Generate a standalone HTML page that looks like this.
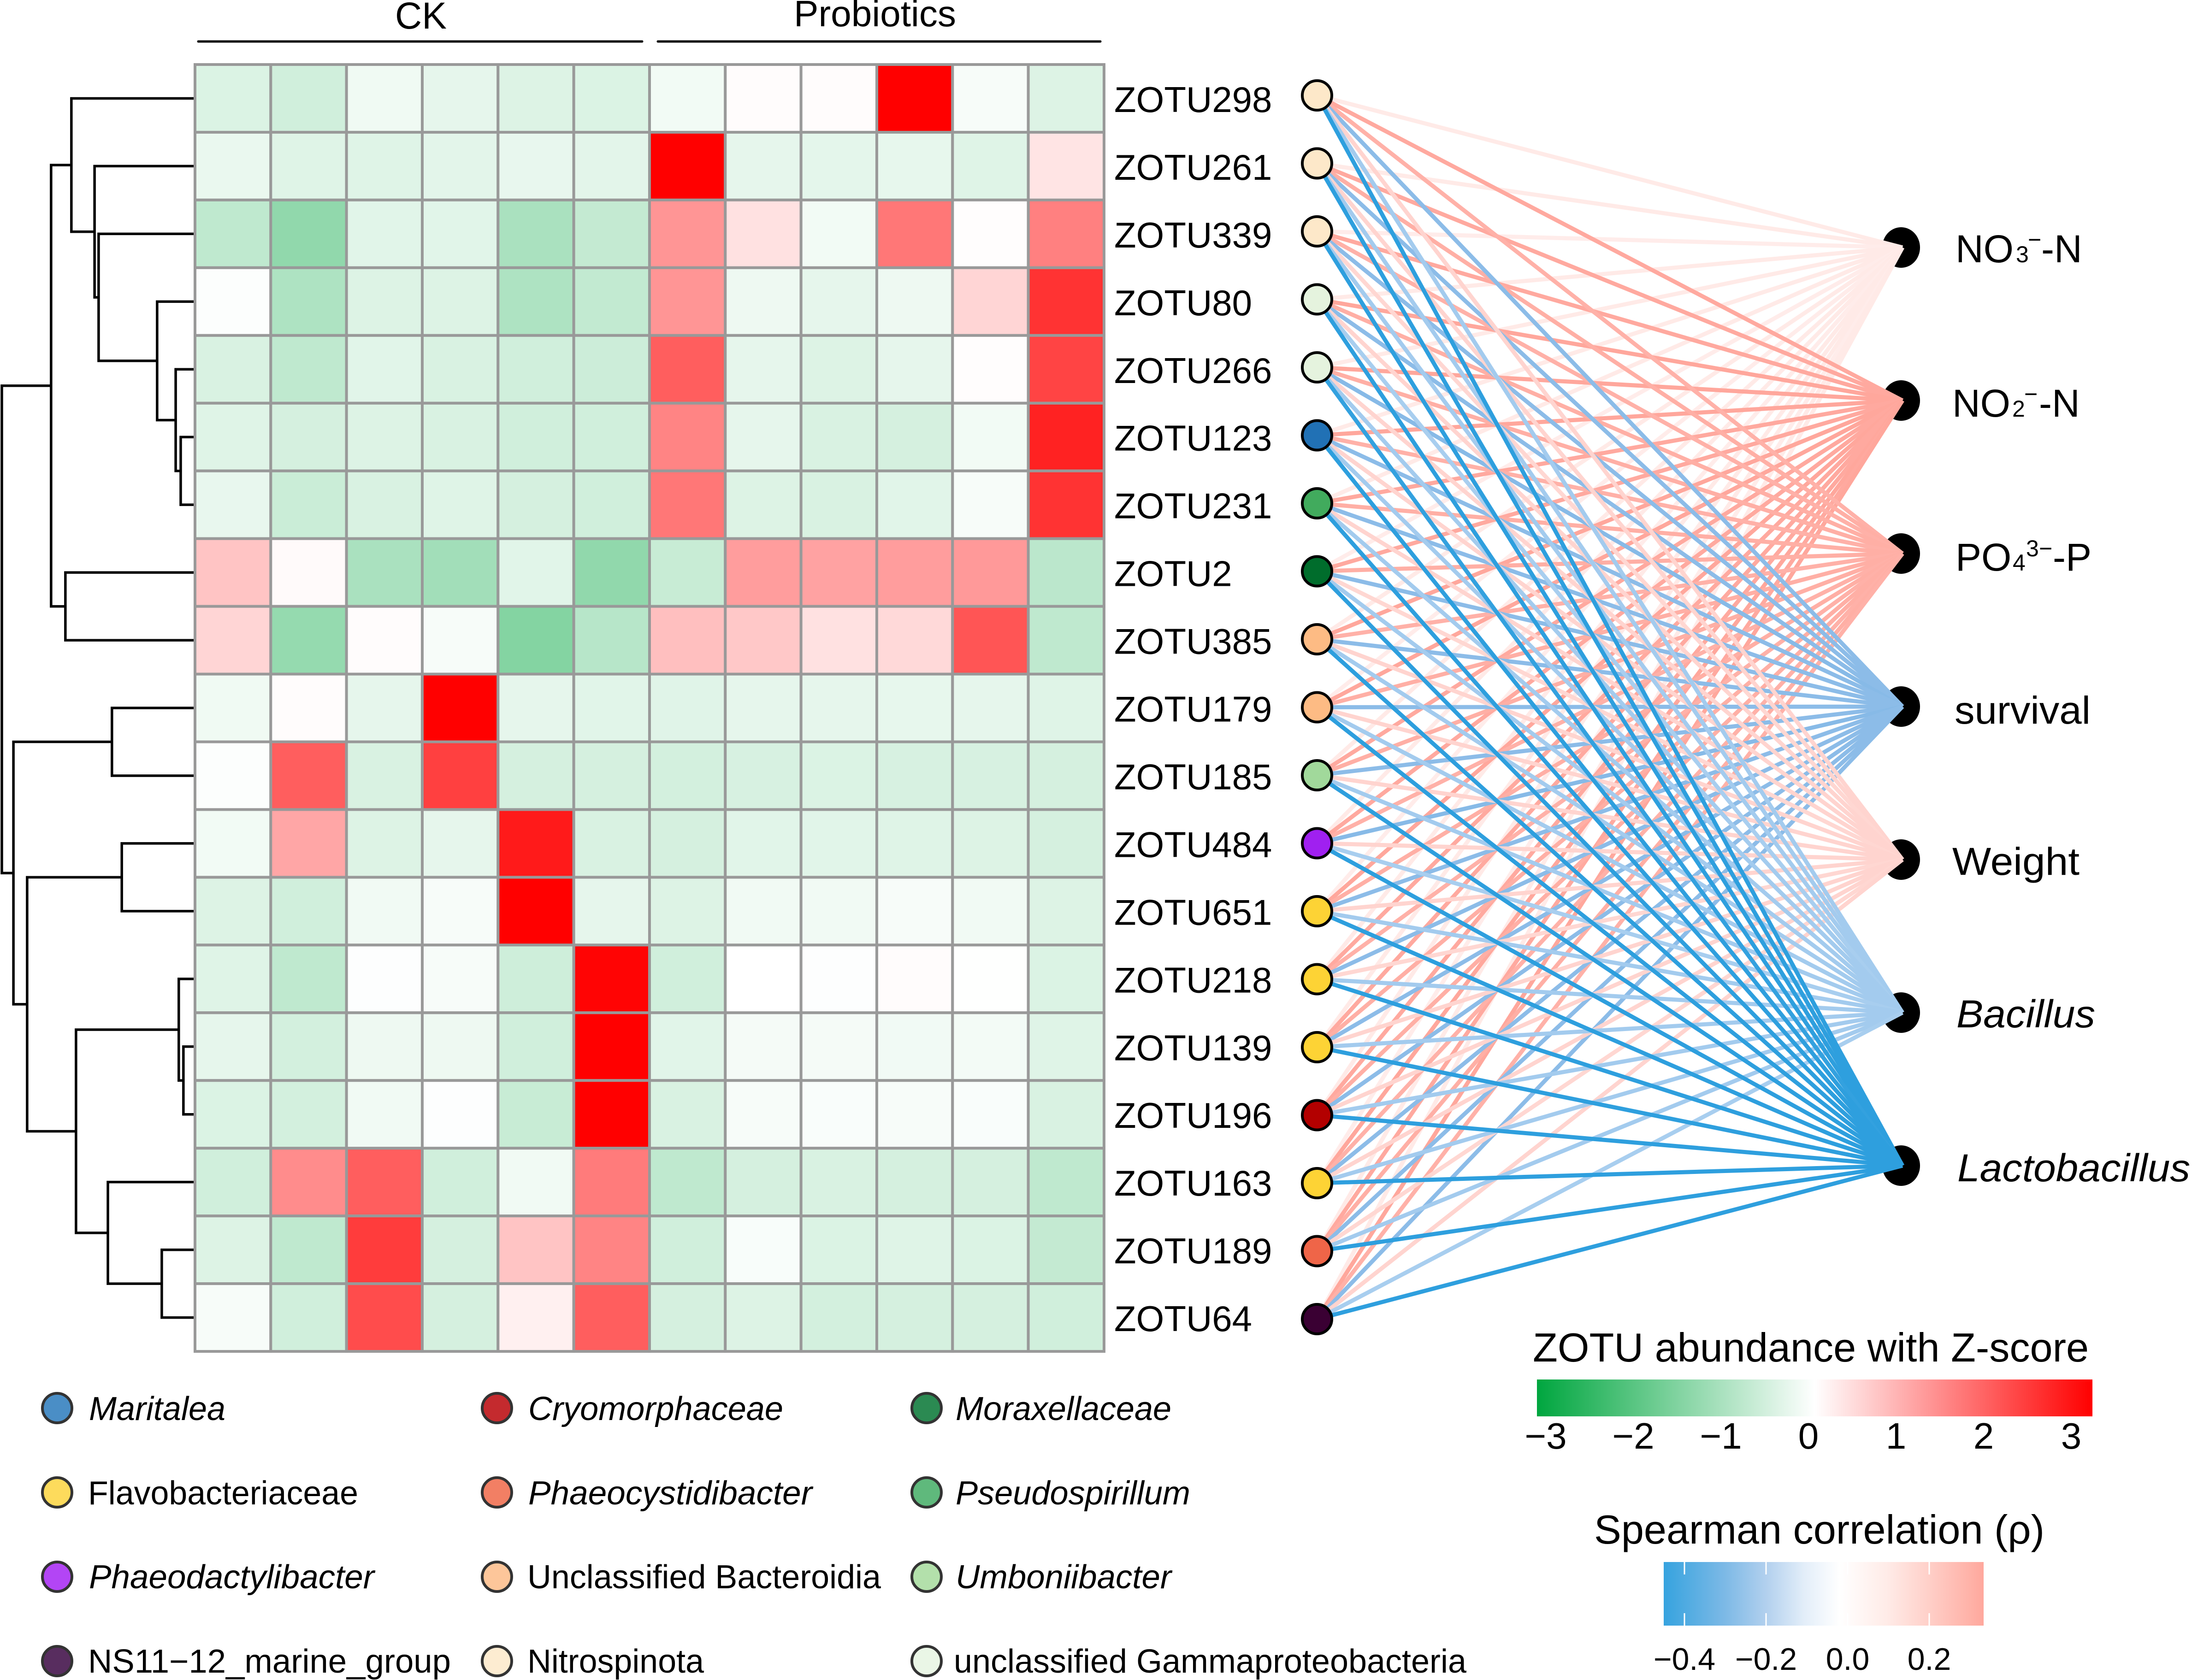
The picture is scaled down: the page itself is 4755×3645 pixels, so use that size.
<!DOCTYPE html>
<html lang="en">
<head>
<meta charset="utf-8">
<title>ZOTU abundance heatmap and Spearman correlation network</title>
<style>
  html, body { margin: 0; padding: 0; background: #ffffff; }
  svg { display: block; }
  text { font-family: "Liberation Sans", sans-serif; fill: #000000; }
</style>
</head>
<body>
<svg xmlns="http://www.w3.org/2000/svg" width="4755" height="3645" viewBox="0 0 4755 3645">
  <defs>
    <linearGradient id="zscoreGradient" x1="0" x2="1" y1="0" y2="0">
      <stop offset="0" stop-color="#00a63f"/>
      <stop offset="0.5" stop-color="#ffffff"/>
      <stop offset="1" stop-color="#ff0000"/>
    </linearGradient>
    <linearGradient id="rhoGradient" x1="0" x2="1" y1="0" y2="0">
      <stop offset="0" stop-color="#36a3df"/>
      <stop offset="0.19" stop-color="#7cb9e6"/>
      <stop offset="0.32" stop-color="#b2d0ee"/>
      <stop offset="0.44" stop-color="#e3eef9"/>
      <stop offset="0.55" stop-color="#ffffff"/>
      <stop offset="0.7" stop-color="#ffebe7"/>
      <stop offset="0.83" stop-color="#ffcfc8"/>
      <stop offset="1" stop-color="#ffa89d"/>
    </linearGradient>
  </defs>

  <g id="dendrogram"></g>
  <g id="heatmap"></g>

  <text x="857" y="62" font-size="82" textLength="112" lengthAdjust="spacingAndGlyphs">CK</text>
  <line x1="430" y1="90" x2="1393" y2="90" stroke="#000" stroke-width="5" stroke-linecap="round"/>
  <text x="1722" y="57" font-size="80" textLength="352" lengthAdjust="spacingAndGlyphs">Probiotics</text>
  <line x1="1427" y1="90" x2="2387" y2="90" stroke="#000" stroke-width="5" stroke-linecap="round"/>

  <g id="rowLabels"></g>
  <g id="targetNodes"></g>
  <g id="edges"></g>
  <g id="sourceNodes"></g>

  <g>
    <text y="569" font-size="84"><tspan x="4242">NO</tspan><tspan x="4373" font-size="50">3</tspan><tspan x="4399" dy="-32" font-size="50">−</tspan><tspan x="4428" dy="32">-N</tspan></text>
    <text y="904" font-size="84"><tspan x="4235">NO</tspan><tspan x="4365" font-size="50">2</tspan><tspan x="4391" dy="-32" font-size="50">−</tspan><tspan x="4423" dy="32">-N</tspan></text>
    <text y="1238" font-size="84"><tspan x="4242">PO</tspan><tspan x="4366" font-size="50">4</tspan><tspan x="4395" dy="-31" font-size="50">3</tspan><tspan x="4423" font-size="50">−</tspan><tspan x="4453" dy="31">-P</tspan></text>
    <text x="4240" y="1570" font-size="84" textLength="295" lengthAdjust="spacingAndGlyphs">survival</text>
    <text x="4235" y="1898" font-size="84" textLength="276" lengthAdjust="spacingAndGlyphs">Weight</text>
    <text x="4244" y="2229" font-size="84" font-style="italic" textLength="301" lengthAdjust="spacingAndGlyphs">Bacillus</text>
    <text x="4246" y="2563" font-size="84" font-style="italic" textLength="505" lengthAdjust="spacingAndGlyphs">Lactobacillus</text>
  </g>

  <g>
    <text x="3325" y="2954" font-size="88" textLength="1206" lengthAdjust="spacingAndGlyphs">ZOTU abundance with Z-score</text>
    <rect x="3334" y="2993" width="1205" height="80" fill="url(#zscoreGradient)"/>
    <g id="zscoreTicks"></g>
  </g>

  <g>
    <text x="3458" y="3349" font-size="88" textLength="977" lengthAdjust="spacingAndGlyphs">Spearman correlation (ρ)</text>
    <rect x="3609" y="3389" width="694" height="138" fill="url(#rhoGradient)"/>
    <g id="rhoTicks"></g>
  </g>

  <g>
    <g><circle cx="124" cy="3055" r="32" fill="#4a8ec6" stroke="#333" stroke-width="6"/><text x="193" y="3081" font-size="72" font-style="italic" textLength="296" lengthAdjust="spacingAndGlyphs">Maritalea</text></g>
    <g><circle cx="124" cy="3238" r="32" fill="#fddb5c" stroke="#333" stroke-width="6"/><text x="191" y="3264" font-size="72" textLength="586" lengthAdjust="spacingAndGlyphs">Flavobacteriaceae</text></g>
    <g><circle cx="124" cy="3421" r="32" fill="#b345f5" stroke="#333" stroke-width="6"/><text x="193" y="3446" font-size="72" font-style="italic" textLength="619" lengthAdjust="spacingAndGlyphs">Phaeodactylibacter</text></g>
    <g><circle cx="124" cy="3604" r="32" fill="#582d5f" stroke="#333" stroke-width="6"/><text x="191" y="3629" font-size="72" textLength="787" lengthAdjust="spacingAndGlyphs">NS11−12_marine_group</text></g>
    <g><circle cx="1078" cy="3055" r="32" fill="#c42a2e" stroke="#333" stroke-width="6"/><text x="1146" y="3081" font-size="72" font-style="italic" textLength="553" lengthAdjust="spacingAndGlyphs">Cryomorphaceae</text></g>
    <g><circle cx="1078" cy="3238" r="32" fill="#f27f64" stroke="#333" stroke-width="6"/><text x="1146" y="3264" font-size="72" font-style="italic" textLength="616" lengthAdjust="spacingAndGlyphs">Phaeocystidibacter</text></g>
    <g><circle cx="1078" cy="3421" r="32" fill="#fdc69a" stroke="#333" stroke-width="6"/><text x="1144" y="3446" font-size="72" textLength="767" lengthAdjust="spacingAndGlyphs">Unclassified Bacteroidia</text></g>
    <g><circle cx="1078" cy="3604" r="32" fill="#fdecd1" stroke="#333" stroke-width="6"/><text x="1144" y="3629" font-size="72" textLength="383" lengthAdjust="spacingAndGlyphs">Nitrospinota</text></g>
    <g><circle cx="2010" cy="3055" r="32" fill="#2b8a52" stroke="#333" stroke-width="6"/><text x="2073" y="3081" font-size="72" font-style="italic" textLength="468" lengthAdjust="spacingAndGlyphs">Moraxellaceae</text></g>
    <g><circle cx="2010" cy="3238" r="32" fill="#5fb97c" stroke="#333" stroke-width="6"/><text x="2073" y="3264" font-size="72" font-style="italic" textLength="509" lengthAdjust="spacingAndGlyphs">Pseudospirillum</text></g>
    <g><circle cx="2010" cy="3421" r="32" fill="#b3e0ab" stroke="#333" stroke-width="6"/><text x="2073" y="3446" font-size="72" font-style="italic" textLength="468" lengthAdjust="spacingAndGlyphs">Umboniibacter</text></g>
    <g><circle cx="2010" cy="3604" r="32" fill="#eaf6e6" stroke="#333" stroke-width="6"/><text x="2069" y="3629" font-size="72" textLength="1112" lengthAdjust="spacingAndGlyphs">unclassified Gammaproteobacteria</text></g>
  </g>
</svg>

<script>
// ---------- Data ----------
const zotuLabels = ["ZOTU298","ZOTU261","ZOTU339","ZOTU80","ZOTU266","ZOTU123","ZOTU231","ZOTU2","ZOTU385","ZOTU179","ZOTU185","ZOTU484","ZOTU651","ZOTU218","ZOTU139","ZOTU196","ZOTU163","ZOTU189","ZOTU64"];
const zotuColors = ["#fde8c9","#fde8c9","#fde8c9","#e5f3de","#e5f3de","#2171b5","#41ab5d","#006d2c","#fdbb84","#fdbb84","#a1d99b","#a020f0","#fdd335","#fdd335","#fdd335","#b30000","#fdd335","#ef6548","#3a0033"];

const zRow0  = [-.42,-.55,-.18,-.30,-.40,-.42, -.15,.03,.03,3,-.10,-.40];
const zRow1  = [-.25,-.38,-.38,-.33,-.27,-.33, 3,-.30,-.32,-.28,-.38,.32];
const zRow2  = [-.75,-1.3,-.35,-.35,-1.0,-.70, 1.25,.35,-.15,1.6,.02,1.5];
const zRow3  = [-.03,-.95,-.40,-.40,-.95,-.72, 1.25,-.20,-.30,-.20,.5,2.4];
const zRow4  = [-.45,-.75,-.35,-.45,-.55,-.60, 1.9,-.30,-.40,-.30,.02,2.2];
const zRow5  = [-.38,-.50,-.40,-.45,-.55,-.55, 1.45,-.30,-.45,-.50,-.15,2.6];
const zRow6  = [-.27,-.62,-.45,-.38,-.50,-.55, 1.6,-.40,-.45,-.35,-.10,2.4];
const zRow7  = [.7,.06,-1.0,-1.1,-.35,-1.3, -.65,1.15,1.1,1.15,1.2,-.80];
const zRow8  = [.5,-1.25,.03,-.10,-1.45,-.85, .75,.65,.35,.45,2.0,-.75];
const zRow9  = [-.18,.03,-.30,3,-.30,-.35, -.36,-.30,-.30,-.28,-.30,-.38];
const zRow10 = [-.03,1.9,-.45,2.25,-.50,-.50, -.52,-.47,-.42,-.47,-.47,-.50];
const zRow11 = [-.15,1.05,-.40,-.30,2.7,-.45, -.50,-.35,-.35,-.38,-.40,-.50];
const zRow12 = [-.40,-.55,-.17,-.10,3,-.30, -.40,-.17,-.17,-.10,-.17,-.40];
const zRow13 = [-.38,-.75,-.02,-.10,-.58,2.95, -.55,0,-.02,.03,-.01,-.42];
const zRow14 = [-.30,-.52,-.20,-.20,-.55,3, -.35,-.12,-.12,-.16,-.14,-.38];
const zRow15 = [-.42,-.52,-.17,-.02,-.65,3, -.45,-.10,-.07,-.10,-.07,-.45];
const zRow16 = [-.55,1.35,1.9,-.55,-.17,1.55, -.75,-.50,-.45,-.50,-.50,-.75];
const zRow17 = [-.40,-.75,2.3,-.50,.7,1.45, -.55,-.08,-.42,-.38,-.42,-.70];
const zRow18 = [-.10,-.55,2.1,-.50,.18,1.9, -.50,-.40,-.52,-.50,-.50,-.55];
const zMatrix = [zRow0,zRow1,zRow2,zRow3,zRow4,zRow5,zRow6,zRow7,zRow8,zRow9,zRow10,zRow11,zRow12,zRow13,zRow14,zRow15,zRow16,zRow17,zRow18];

// Dendrogram merges: negative = leaf (-1 is first row), positive = earlier merge (1-based)
const mergeLeft   = [-6,-5,-4,-3,-2,-1,-8,6,-10,-12,-15,-14,-18,-17,12,10,9,8];
const mergeRight  = [-7,1,2,3,4,5,-9,7,-11,-13,-16,11,-19,13,14,15,16,17];
const mergeHeight = [7.4,10.0,19.6,49.9,52.0,64.0,67.1,74.5,43.0,37.9,6.0,8.4,17.2,45.1,61.6,86.9,94.0,100];

const targetNames = ["no3-n","no2-n","po4-p","survival","weight","bacillus","lactobacillus"];
const rhoNO3   = [.08,.08,.07,.08,.08,.08,.08,.07,.08,.07,.08,.08,.07,.08,.08,.08,.07,.08,.08];
const rhoNO2   = [.32,.32,.32,.33,.33,.33,.32,.32,.33,.33,.32,.32,.33,.32,.32,.32,.33,.32,.33];
const rhoPO4   = [.29,.30,.29,.30,.30,.29,.30,.30,.29,.30,.30,.29,.30,.29,.30,.30,.29,.30,.29];
const rhoSurv  = [-.25,-.25,-.25,-.25,-.26,-.25,-.25,-.25,-.25,-.25,-.25,-.26,-.25,-.25,-.25,-.25,-.25,-.25,-.25];
const rhoWeight= [.16,.16,.15,.16,.16,.16,.16,.15,.16,.16,.16,.16,.16,.15,.16,.16,.16,.15,.16];
const rhoBac   = [-.20,-.20,-.20,-.19,-.20,-.20,-.20,-.20,-.20,-.20,-.20,-.19,-.20,-.20,-.20,-.20,-.20,-.20,-.19];
const rhoLacto = [-.44,-.44,-.44,-.44,-.43,-.44,-.44,-.44,-.44,-.44,-.44,-.44,-.44,-.44,-.44,-.44,-.44,-.44,-.44];
const rhoByTarget = [rhoNO3,rhoNO2,rhoPO4,rhoSurv,rhoWeight,rhoBac,rhoLacto];

const zscoreTickValues = [-3,-2,-1,0,1,2,3];
const rhoTickValues = [-0.4,-0.2,0,0.2];

// ---------- Axis functions ----------
const NS = "http://www.w3.org/2000/svg";
const colX = c => 423 + c * 164.33;
const rowY = r => 140 + r * 146.95;
const rowMid = r => rowY(r + 0.5);
const heightX = h => 423 - h * 4.19;
const srcY = i => 207 + i * 147.5;
const tgtY = j => 537 + j * 332;
const zscoreX = v => 3923 + v * 190;
const rhoX = v => 4008 + v * 885;

function mix(a, b, t) { return Math.round(a + (b - a) * t); }
function zColor(z) {
  const t = Math.min(1, Math.abs(z) / 3);
  if (z >= 0) return "rgb(255," + mix(255, 0, t) + "," + mix(255, 0, t) + ")";
  return "rgb(" + mix(255, 0, t) + "," + mix(255, 166, t) + "," + mix(255, 63, t) + ")";
}
function lerpColor(a, b, t) {
  return "rgb(" + mix(a[0], b[0], t) + "," + mix(a[1], b[1], t) + "," + mix(a[2], b[2], t) + ")";
}
function rhoColor(r) {
  if (r >= 0) return lerpColor([255,255,255], [255,166,155], Math.min(1, r / 0.333));
  if (r >= -0.2) return lerpColor([255,255,255], [163,203,238], -r / 0.2);
  if (r >= -0.25) return lerpColor([163,203,238], [140,188,232], (-r - 0.2) / 0.05);
  return lerpColor([140,188,232], [46,159,222], Math.min(1, (-r - 0.25) / 0.19));
}
function mk(tag, attrs, parent) {
  const el = document.createElementNS(NS, tag);
  for (const k in attrs) el.setAttribute(k, attrs[k]);
  parent.appendChild(el);
  return el;
}

// ---------- Heatmap ----------
const heatG = document.getElementById("heatmap");
zMatrix.forEach((row, r) => {
  row.forEach((z, c) => {
    const cell = mk("rect", {x: colX(c), y: rowY(r), width: 164.33, height: 146.95, fill: zColor(z), stroke: "#999999", "stroke-width": 6}, heatG);
    
    
  });
});

// ---------- Row labels ----------
const labelG = document.getElementById("rowLabels");
zotuLabels.forEach((name, r) => {
  const t = mk("text", {x: 2417, y: rowMid(r) + 29.5, "font-size": 78}, labelG);
  t.textContent = name;
  
  
});

// ---------- Dendrogram ----------
const dendG = document.getElementById("dendrogram");
const mergeMid = [];
function nodeInfo(id) {
  if (id < 0) return {x: 423, y: rowMid(-id - 1)};
  return {x: heightX(mergeHeight[id - 1]), y: mergeMid[id - 1]};
}
mergeHeight.forEach((h, i) => {
  const a = nodeInfo(mergeLeft[i]);
  const b = nodeInfo(mergeRight[i]);
  const x = heightX(h);
  mergeMid[i] = (a.y + b.y) / 2;
  const p = mk("path", {d: "M" + a.x + " " + a.y + "H" + x + "V" + b.y + "H" + b.x, fill: "none", stroke: "#000", "stroke-width": 5.5, "stroke-linejoin": "miter"}, dendG);
  
  
});

// ---------- Network ----------
const SRC_X = 2857, TGT_X = 4127;
const tgtG = document.getElementById("targetNodes");
targetNames.forEach((name, j) => {
  const c = mk("ellipse", {cx: 4124, cy: tgtY(j), rx: 41, ry: 44, fill: "#000"}, tgtG);
  
  
});
const edgeG = document.getElementById("edges");
rhoByTarget.forEach((vals, j) => {
  vals.forEach((rho, i) => {
    const l = mk("line", {x1: SRC_X, y1: srcY(i), x2: TGT_X, y2: tgtY(j), stroke: rhoColor(rho), "stroke-width": 9}, edgeG);
    
    
  });
});
const srcG = document.getElementById("sourceNodes");
zotuColors.forEach((col, i) => {
  const c = mk("circle", {cx: SRC_X, cy: srcY(i), r: 32, fill: col, stroke: "#000", "stroke-width": 6}, srcG);
  
  
});

// ---------- Colour bar ticks ----------
const fmtMinus = s => s.replace("-", "\u2212");
const zTickG = document.getElementById("zscoreTicks");
zscoreTickValues.forEach(v => {
  const t = mk("text", {x: zscoreX(v), y: 3143, "font-size": 80, "text-anchor": "middle"}, zTickG);
  t.textContent = fmtMinus(String(v));
  
  
});
const rTickG = document.getElementById("rhoTicks");
rhoTickValues.forEach(v => {
  const x = rhoX(v);
  const top = mk("line", {x1: x, x2: x, y1: 3389, y2: 3416, stroke: "#fff", "stroke-width": 3}, rTickG);
  
  
  const bot = mk("line", {x1: x, x2: x, y1: 3500, y2: 3527, stroke: "#fff", "stroke-width": 3}, rTickG);
  
  
  const t = mk("text", {x: x, y: 3623, "font-size": 68, "text-anchor": "middle"}, rTickG);
  t.textContent = fmtMinus(v.toFixed(1));
  
  
});
</script>
</body>
</html>
